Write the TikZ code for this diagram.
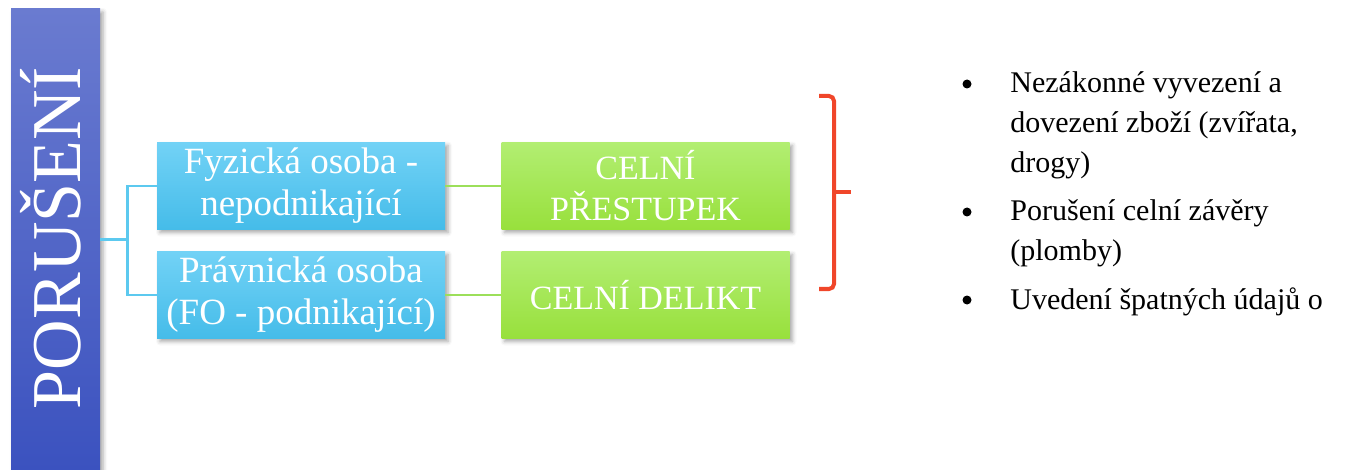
\documentclass[tikz,border=0pt]{standalone}
\usepackage{fontspec}
\setmainfont{Liberation Serif}
\usepackage{xcolor}
\usetikzlibrary{shadows.blur}
\definecolor{barTop}{HTML}{6A7BD0}
\definecolor{barBottom}{HTML}{3B52BF}
\definecolor{blueTop}{HTML}{72D2F6}
\definecolor{blueBottom}{HTML}{45BCE9}
\definecolor{greenTop}{HTML}{B2EE72}
\definecolor{greenBottom}{HTML}{98E03C}
\definecolor{blueLine}{HTML}{5CC9EF}
\definecolor{greenLine}{HTML}{9CDF5A}
\definecolor{braceRed}{HTML}{F0462A}

\begin{document}
\begin{tikzpicture}[x=1pt,y=-1pt,thick,scale=1, every node/.style={transform shape, inner sep=0pt},
    stin/.style={blur shadow={shadow xshift=3pt, shadow yshift=-3pt, shadow blur radius=4pt, shadow opacity=35}},
    sloupec/.style={stin, minimum width=89pt, minimum height=461pt, top color=barTop, bottom color=barBottom},
    titul/.style={rotate=90, text=white, anchor=base, font=\fontsize{70}{70}\selectfont},
    osoba/.style={stin, minimum width=288pt, minimum height=87pt, top color=blueTop, bottom color=blueBottom,
        text=white, align=center, font=\fontsize{37}{42}\selectfont},
    cin/.style={osoba, top color=greenTop, bottom color=greenBottom, font=\fontsize{34}{41}\selectfont},
    modra/.style={draw=blueLine, line width=2.5pt},
    zelena/.style={draw=greenLine, line width=2.5pt},
    zavorka/.style={draw=braceRed, line width=4pt, rounded corners=5pt},
    polozka/.style={anchor=base west, align=left, text=black, font=\fontsize{30}{40}\selectfont}]
    \useasboundingbox (0,0) rectangle (1346,470);
    \node[sloupec] (bar) at (55.5,239.5) {};
    \node[titul] (nadpis) at (80,238) {PORUŠENÍ};
    \node[osoba] (fyzicka) at (301,186) {Fyzická osoba -\\nepodnikající};
    \node[osoba] (pravnicka) at (301,295) {Právnická osoba\\(FO - podnikající)};
    \node[cin] (prestupek) at (645.5,186) {CELNÍ\\PŘESTUPEK};
    \node[cin] (delikt) at (645.5,295) {CELNÍ DELIKT};
    \draw[modra] (bar.east) -- ++(27,0) coordinate (rozcesti);
    \draw[modra] (fyzicka.west) -| (rozcesti) |- (pravnicka.west);
    \draw[zelena] (fyzicka) -- (prestupek);
    \draw[zelena] (pravnicka) -- (delikt);
    \draw[zavorka] (819,96) -- (834,96) -- (834,289) -- (819,289);
    \draw[zavorka] (834,192) -- (851,192);
    \foreach \y in {84,212,300} {
        \fill (967,\y) circle (4.5);
    }
    \node[polozka] (bod1) at (1010,173) {Nezákonné vyvezení a\\dovezení zboží (zvířata,\\drogy)};
    \node[polozka] (bod2) at (1010,261) {Porušení celní závěry\\(plomby)};
    \node[polozka] (bod3) at (1010,309) {Uvedení špatných údajů o};
\end{tikzpicture}
\end{document}
